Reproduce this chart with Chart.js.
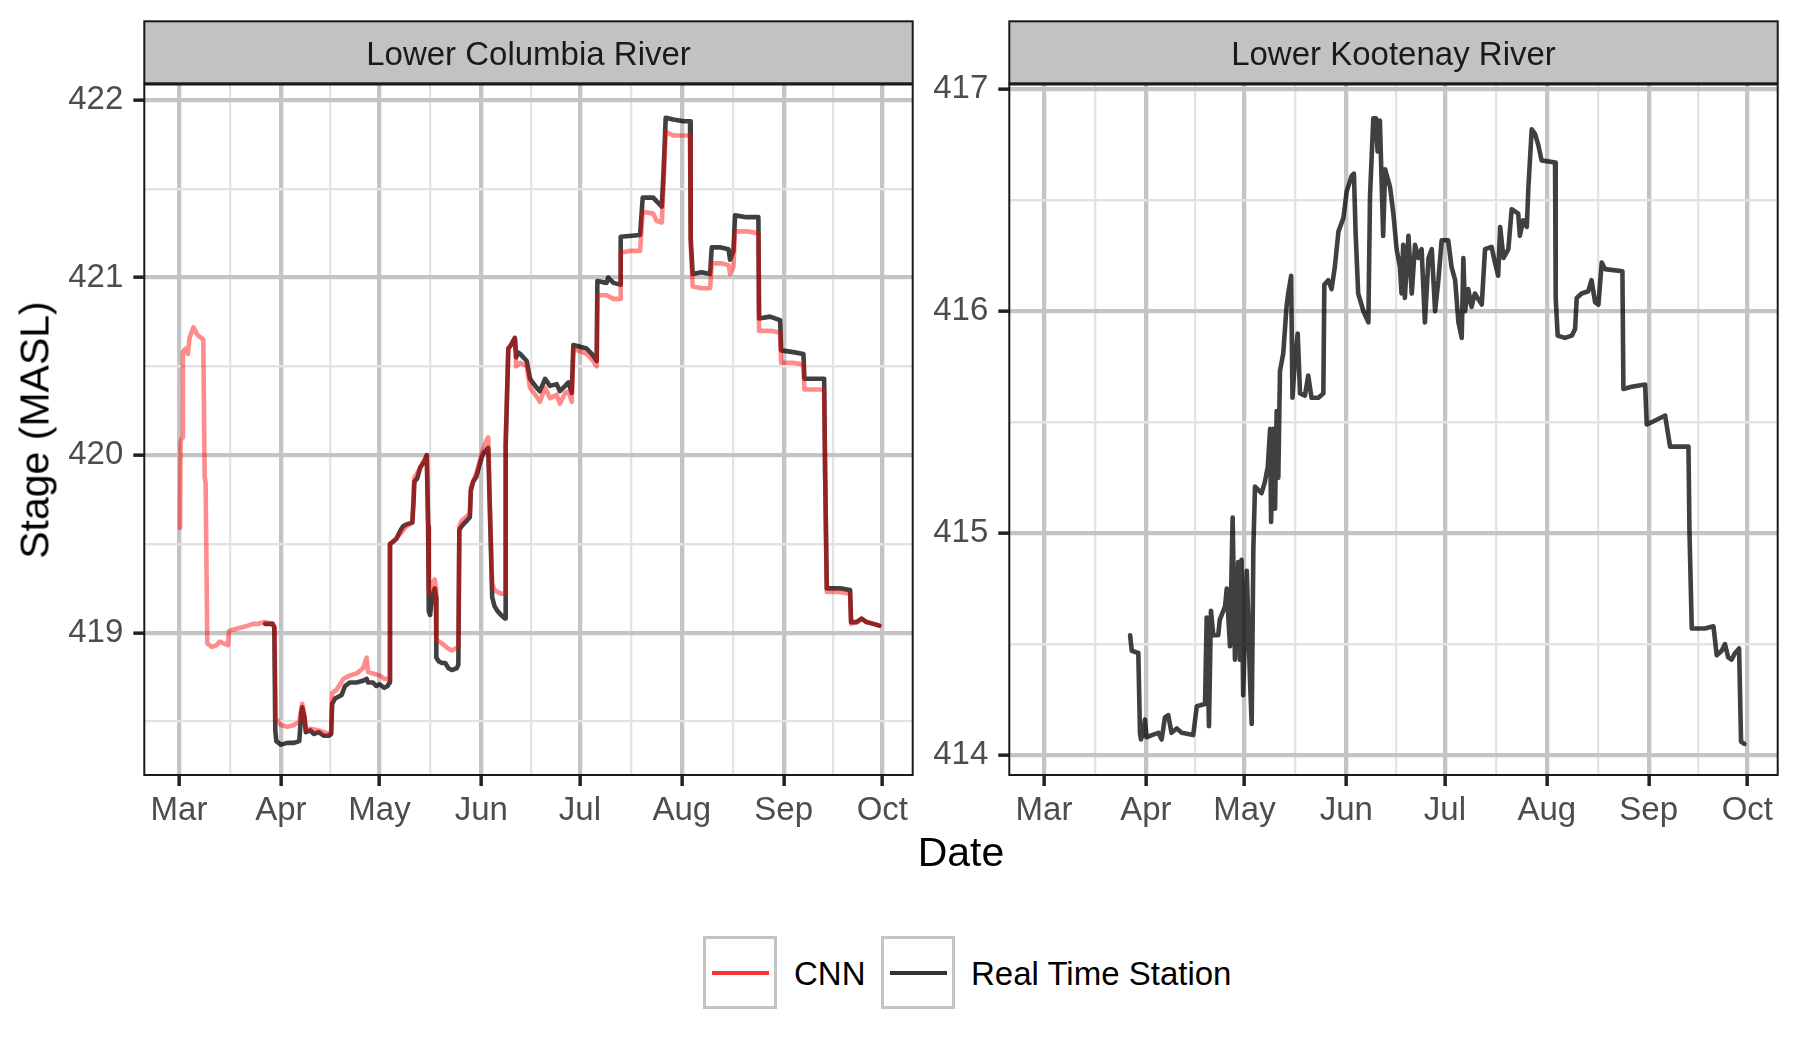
<!DOCTYPE html>
<html>
<head>
<meta charset="utf-8">
<script src="https://cdn.jsdelivr.net/npm/chart.js@4.4.1/dist/chart.umd.min.js"></script>
<style>
  body { margin: 0; width: 1800px; height: 1050px; background: #fff; overflow: hidden; position: relative;
         font-family: "Liberation Sans", Arial, sans-serif; }
  canvas { position: absolute; top: 0; }
  #colChart { left: 0; }
  #kootChart { left: 865px; }
  .txt { position: absolute; white-space: nowrap; line-height: 1; color: #000; }
  .key { position: absolute; box-sizing: border-box; width: 74px; height: 73px; border: 3px solid #c4c4c4; background: #fff; }
  .keyline { position: absolute; left: 6px; top: 32px; width: 57px; height: 4.4px; }
</style>
</head>
<body>
<canvas id="colChart" width="930" height="850"></canvas>
<canvas id="kootChart" width="930" height="850"></canvas>

<div class="txt" style="left:961px;top:852px;font-size:41px;transform:translate(-50%,-50%)">Date</div>
<div class="txt" style="left:35px;top:430px;font-size:41px;transform:translate(-50%,-50%) rotate(-90deg)">Stage (MASL)</div>

<div class="key" style="left:703px;top:936px"><div class="keyline" style="background:#ff3333"></div></div>
<div class="txt" style="left:794px;top:973px;font-size:33px;transform:translateY(-50%)">CNN</div>
<div class="key" style="left:881px;top:936px"><div class="keyline" style="background:#333333"></div></div>
<div class="txt" style="left:971px;top:973px;font-size:33px;transform:translateY(-50%)">Real Time Station</div>

<script>
// days counted from 1 March
const monthTicks = [0, 31, 61, 92, 122, 153, 184, 214];
const monthLabels = ['Mar', 'Apr', 'May', 'Jun', 'Jul', 'Aug', 'Sep', 'Oct'];
const colTicks = [419, 420, 421, 422];
const kootTicks = [414, 415, 416, 417];

// Lower Columbia River - CNN
const cnnDays = [0.3, 0.5, 1.0, 1.2, 2.0, 2.7, 3.2, 4.0, 4.4, 5.5, 7.4, 7.8, 8.1, 8.6, 10.0, 11.5, 12.3, 14.9, 15.2, 17.0,
  19.0, 21.0, 22.5, 24.0, 26.0, 28.5, 29.1, 29.4, 31.0, 33.0, 35.0, 36.6, 37.2, 37.5, 38.2, 38.6, 40.0, 42.5, 45.5, 46.3,
  46.6, 48.0, 50.0, 52.0, 54.0, 56.0, 57.1, 57.5, 59.0, 61.0, 62.5, 64.0, 64.2, 66.0, 67.5, 69.2, 71.0, 71.4, 71.6, 73.4,
  75.4, 75.8, 76.0, 76.4, 77.0, 77.8, 78.2, 78.3, 80.0, 82.0, 83.0, 85.0, 85.3, 86.0, 88.5, 88.8, 90.5, 92.3, 93.5, 94.1,
  94.5, 95.3, 96.0, 98.0, 99.2, 99.4, 100.2, 101.0, 102.2, 102.6, 103.8, 105.8, 106.8, 108.8, 109.8, 111.4, 112.9, 114.9, 115.9, 117.5,
  118.5, 119.5, 120.0, 124.0, 125.6, 127.1, 127.3, 130.1, 132.2, 134.2, 134.4, 137.0, 140.3, 141.1, 144.3, 145.3, 146.9, 147.4, 148.1, 150.4,
  153.5, 155.5, 155.7, 156.3, 159.0, 161.6, 162.1, 165.0, 167.2, 167.7, 168.7, 169.2, 173.0, 176.3, 176.5, 180.0, 182.9, 183.2, 187.0, 190.0,
  190.3, 193.0, 196.3, 196.6, 197.1, 201.0, 204.2, 204.5, 206.2, 207.7, 209.2, 211.3, 213.1];
const cnnStage = [419.59, 420.08, 420.10, 420.58, 420.60, 420.57, 420.66, 420.70, 420.72, 420.68, 420.65, 419.88, 419.84, 418.94, 418.92, 418.93, 418.95, 418.93, 419.01, 419.02,
  419.03, 419.04, 419.05, 419.05, 419.06, 419.05, 419.03, 418.52, 418.48, 418.47, 418.48, 418.50, 418.57, 418.60, 418.53, 418.45, 418.46, 418.45, 418.43, 418.44,
  418.66, 418.68, 418.74, 418.76, 418.77, 418.80, 418.86, 418.78, 418.77, 418.76, 418.74, 418.74, 419.50, 419.53, 419.56, 419.60, 419.62, 419.78, 419.87, 419.93,
  420.00, 419.60, 419.25, 419.22, 419.28, 419.30, 419.25, 418.96, 418.94, 418.91, 418.90, 418.92, 419.60, 419.63, 419.67, 419.82, 419.90, 420.02, 420.08, 420.10,
  419.78, 419.28, 419.24, 419.22, 419.22, 420.08, 420.60, 420.62, 420.66, 420.50, 420.52, 420.50, 420.38, 420.33, 420.30, 420.38, 420.32, 420.34, 420.29, 420.35,
  420.36, 420.30, 420.60, 420.57, 420.54, 420.50, 420.90, 420.90, 420.88, 420.88, 421.14, 421.15, 421.15, 421.37, 421.36, 421.32, 421.31, 421.50, 421.82, 421.80,
  421.80, 421.80, 421.18, 420.95, 420.94, 420.94, 421.08, 421.08, 421.07, 421.02, 421.06, 421.26, 421.26, 421.25, 420.70, 420.70, 420.69, 420.52, 420.52, 420.51,
  420.37, 420.37, 420.37, 419.90, 419.23, 419.23, 419.22, 419.05, 419.06, 419.08, 419.06, 419.05, 419.04];

// Lower Columbia River - Real Time Station
const rtsDays = [26.2, 28.5, 29.0, 29.3, 29.6, 31.0, 33.0, 35.0, 36.6, 37.2, 37.5, 38.2, 38.6, 40.0, 41.0, 42.5, 44.0, 45.5, 46.3, 46.6,
  47.5, 48.5, 49.5, 50.5, 52.0, 54.0, 56.0, 57.1, 57.5, 59.0, 60.0, 61.0, 62.5, 63.5, 64.0, 64.2, 65.0, 66.2, 67.5, 68.2,
  69.2, 71.0, 71.4, 71.6, 72.5, 73.4, 74.8, 75.4, 75.8, 76.0, 76.4, 77.0, 77.8, 78.2, 78.3, 79.0, 80.0, 81.0, 82.0, 83.0,
  84.5, 85.0, 85.3, 86.0, 87.5, 88.5, 88.8, 89.5, 90.5, 91.5, 92.3, 93.0, 94.1, 94.5, 95.3, 96.0, 97.0, 98.0, 99.2, 99.4,
  100.2, 101.0, 102.2, 102.6, 103.0, 103.8, 105.8, 106.8, 108.8, 109.8, 111.4, 112.9, 114.9, 115.9, 117.5, 118.5, 119.5, 120.0, 124.0, 125.6,
  127.1, 127.3, 130.1, 130.6, 132.2, 134.2, 134.4, 140.3, 141.1, 144.3, 145.3, 146.9, 147.4, 148.1, 150.4, 153.5, 155.5, 155.7, 156.3, 159.0,
  161.6, 162.1, 164.6, 167.2, 167.7, 168.7, 169.2, 172.7, 176.3, 176.5, 179.8, 182.9, 183.2, 186.9, 190.0, 190.3, 193.0, 196.3, 196.6, 197.1,
  201.1, 204.2, 204.5, 206.2, 207.7, 209.2, 211.3, 213.1];
const rtsStage = [419.05, 419.05, 419.03, 418.45, 418.39, 418.37, 418.38, 418.38, 418.39, 418.55, 418.58, 418.52, 418.44, 418.45, 418.43, 418.44, 418.42, 418.42, 418.43, 418.60,
  418.63, 418.64, 418.65, 418.70, 418.72, 418.72, 418.73, 418.74, 418.72, 418.72, 418.70, 418.71, 418.69, 418.70, 418.72, 419.50, 419.51, 419.53, 419.58, 419.60,
  419.61, 419.62, 419.75, 419.85, 419.87, 419.93, 419.97, 420.00, 419.60, 419.12, 419.10, 419.20, 419.25, 419.20, 418.86, 418.84, 418.83, 418.83, 418.80, 418.79,
  418.80, 418.82, 419.58, 419.60, 419.63, 419.65, 419.80, 419.85, 419.88, 419.95, 420.00, 420.02, 420.04, 419.75, 419.20, 419.15, 419.12, 419.10, 419.08, 420.05,
  420.60, 420.62, 420.66, 420.55, 420.58, 420.57, 420.53, 420.43, 420.38, 420.36, 420.43, 420.39, 420.40, 420.36, 420.39, 420.41, 420.35, 420.62, 420.60, 420.57,
  420.53, 420.98, 420.97, 421.00, 420.97, 420.96, 421.23, 421.24, 421.45, 421.45, 421.43, 421.40, 421.58, 421.90, 421.89, 421.88, 421.88, 421.22, 421.02, 421.03,
  421.02, 421.17, 421.17, 421.16, 421.10, 421.15, 421.35, 421.34, 421.34, 420.77, 420.78, 420.76, 420.59, 420.58, 420.57, 420.43, 420.43, 420.43, 419.91, 419.25,
  419.25, 419.24, 419.06, 419.06, 419.08, 419.06, 419.05, 419.04];

// Lower Kootenay River - Real Time Station
const kootDays = [26.2, 26.7, 28.7, 29.2, 29.5, 30.2, 30.7, 31.2, 32.8, 34.8, 35.8, 36.8, 37.8, 38.8, 40.4, 41.9, 45.4, 46.5, 49.0, 49.5,
  50.2, 50.8, 51.5, 53.0, 53.5, 55.1, 55.6, 56.6, 57.4, 58.1, 59.1, 59.6, 60.1, 60.6, 61.7, 62.7, 63.2, 63.7, 64.2, 66.2,
  67.2, 68.1, 68.8, 69.1, 69.8, 70.3, 70.8, 71.3, 71.8, 72.8, 73.8, 74.3, 75.2, 75.6, 76.4, 77.2, 77.9, 79.4, 80.4, 81.4,
  83.5, 85.0, 85.3, 86.5, 87.5, 88.5, 89.6, 91.1, 92.1, 93.6, 94.3, 94.8, 95.6, 97.2, 98.7, 99.2, 100.2, 101.0, 101.5, 102.2,
  103.2, 103.8, 105.3, 106.3, 107.3, 108.3, 108.8, 109.3, 109.8, 110.9, 111.9, 112.9, 113.9, 114.9, 115.9, 117.0, 118.0, 119.0, 120.0, 121.0,
  123.0, 124.0, 125.1, 126.1, 127.1, 127.6, 128.1, 129.1, 130.1, 131.1, 133.2, 134.2, 136.2, 137.2, 138.2, 138.8, 139.8, 141.3, 142.3, 144.3,
  144.8, 145.8, 146.9, 147.4, 148.4, 149.4, 150.4, 151.4, 155.5, 155.7, 156.3, 158.5, 160.6, 161.6, 162.1, 163.6, 165.6, 166.6, 167.7, 168.7,
  169.7, 170.7, 176.0, 176.3, 178.8, 182.9, 183.4, 184.9, 189.0, 190.5, 193.0, 196.1, 196.4, 197.1, 201.1, 203.7, 204.7, 206.2, 207.2, 208.2,
  209.2, 210.3, 211.5, 212.1, 213.1];
const kootStage = [414.54, 414.47, 414.46, 414.10, 414.07, 414.10, 414.16, 414.08, 414.09, 414.10, 414.07, 414.17, 414.18, 414.10, 414.12, 414.10, 414.09, 414.22, 414.23, 414.62,
  414.13, 414.65, 414.54, 414.54, 414.61, 414.67, 414.75, 414.49, 415.07, 414.43, 414.87, 414.43, 414.88, 414.27, 414.83, 414.33, 414.14, 414.93, 415.21, 415.18,
  415.23, 415.30, 415.47, 415.05, 415.47, 415.11, 415.55, 415.25, 415.73, 415.81, 416.02, 416.08, 416.16, 415.61, 415.79, 415.90, 415.63, 415.62, 415.71, 415.61,
  415.61, 415.63, 416.12, 416.14, 416.10, 416.20, 416.36, 416.42, 416.54, 416.61, 416.62, 416.36, 416.08, 416.00, 415.95, 416.52, 416.87, 416.87, 416.72, 416.86,
  416.34, 416.64, 416.56, 416.44, 416.28, 416.20, 416.08, 416.30, 416.06, 416.34, 416.08, 416.30, 416.24, 416.28, 415.95, 416.24, 416.28, 416.00, 416.14, 416.32,
  416.32, 416.20, 416.14, 415.95, 415.88, 416.24, 416.00, 416.10, 416.02, 416.08, 416.03, 416.28, 416.29, 416.22, 416.16, 416.38, 416.24, 416.28, 416.46, 416.44,
  416.34, 416.41, 416.38, 416.56, 416.82, 416.80, 416.75, 416.68, 416.67, 416.06, 415.89, 415.88, 415.89, 415.92, 416.06, 416.08, 416.09, 416.14, 416.04, 416.03,
  416.22, 416.19, 416.18, 415.65, 415.66, 415.67, 415.49, 415.50, 415.53, 415.39, 415.39, 415.39, 415.01, 414.57, 414.57, 414.58, 414.45, 414.47, 414.50, 414.44,
  414.43, 414.46, 414.48, 414.06, 414.05];

Chart.defaults.font.family = '"Liberation Sans", Arial, sans-serif';

const monthMids = monthTicks.slice(1).map((d, i) => (d + monthTicks[i]) / 2);

function points(days, vals) {
  return days.map((d, i) => ({ x: d, y: vals[i] }));
}

function lineSet(label, days, vals, color) {
  return {
    label: label,
    data: points(days, vals),
    borderColor: color,
    borderWidth: 4.6,
    pointRadius: 0,
    tension: 0,
    borderJoinStyle: 'round',
    borderCapStyle: 'round'
  };
}

const panelFrame = {
  id: 'panelFrame',
  afterDraw(chart, args, opts) {
    const ctx = chart.ctx;
    const a = chart.chartArea;
    ctx.save();
    ctx.fillStyle = '#c2c2c2';
    ctx.fillRect(a.left, 21.3, a.right - a.left, 62);
    ctx.strokeStyle = '#1a1a1a';
    ctx.lineWidth = 2;
    ctx.strokeRect(a.left, 21.3, a.right - a.left, 62);
    ctx.fillStyle = '#1a1a1a';
    ctx.font = '33px "Liberation Sans", Arial, sans-serif';
    ctx.textAlign = 'center';
    ctx.textBaseline = 'middle';
    ctx.fillText(opts.title, (a.left + a.right) / 2, 55.5);
    ctx.strokeRect(a.left, a.top, a.right - a.left, a.bottom - a.top);
    ctx.restore();
  }
};

function makePanel(id, title, datasets, yMin, yMax, yMajor) {
  const yMinor = yMajor.map(v => v - 0.5).concat(yMajor.map(v => v + 0.5))
    .filter(v => v > yMin && v < yMax && !yMajor.includes(v));
  const isMajorX = v => monthTicks.includes(v);
  const isMajorY = v => yMajor.includes(v);

  return new Chart(document.getElementById(id), {
    type: 'line',
    data: { datasets: datasets },
    plugins: [panelFrame],
    options: {
      responsive: false,
      animation: false,
      devicePixelRatio: 1,
      layout: { padding: { top: 84.5, right: 17.3, bottom: 15, left: 0 } },
      plugins: {
        legend: { display: false },
        tooltip: { enabled: false },
        panelFrame: { title: title }
      },
      scales: {
        x: {
          type: 'linear',
          min: -10.56,
          max: 223.25,
          afterBuildTicks: s => { s.ticks = monthTicks.concat(monthMids).sort((a, b) => a - b).map(v => ({ value: v })); },
          afterFit: s => { s.height = 60; },
          border: { display: false },
          grid: {
            color: c => (c.tick && isMajorX(c.tick.value)) ? '#c4c4c4' : '#e3e3e3',
            lineWidth: c => (c.tick && isMajorX(c.tick.value)) ? 4.3 : 2.3,
            tickLength: 11,
            tickColor: c => (c.tick && isMajorX(c.tick.value)) ? '#222' : 'rgba(0,0,0,0)',
            tickWidth: 3.5
          },
          ticks: {
            autoSkip: false,
            maxRotation: 0,
            padding: 5,
            color: '#4d4d4d',
            font: { size: 33 },
            callback: v => { const i = monthTicks.indexOf(v); return i >= 0 ? monthLabels[i] : ''; }
          }
        },
        y: {
          type: 'linear',
          min: yMin,
          max: yMax,
          afterBuildTicks: s => { s.ticks = yMajor.concat(yMinor).sort((a, b) => a - b).map(v => ({ value: v })); },
          afterFit: s => { s.width = 144.3; },
          border: { display: false },
          grid: {
            color: c => (c.tick && isMajorY(c.tick.value)) ? '#c4c4c4' : '#e3e3e3',
            lineWidth: c => (c.tick && isMajorY(c.tick.value)) ? 4.3 : 2.3,
            tickLength: 11,
            tickColor: c => (c.tick && isMajorY(c.tick.value)) ? '#222' : 'rgba(0,0,0,0)',
            tickWidth: 3.5
          },
          ticks: {
            autoSkip: false,
            padding: 10,
            color: '#4d4d4d',
            font: { size: 33 },
            callback: v => isMajorY(v) ? String(v) : ''
          }
        }
      }
    }
  });
}

makePanel('colChart', 'Lower Columbia River', [
  lineSet('CNN', cnnDays, cnnStage, 'rgba(255,0,0,0.45)'),
  lineSet('Real Time Station', rtsDays, rtsStage, 'rgba(0,0,0,0.75)')
], 418.199, 422.087, colTicks);

makePanel('kootChart', 'Lower Kootenay River', [
  lineSet('Real Time Station', kootDays, kootStage, 'rgba(0,0,0,0.75)')
], 413.91, 417.022, kootTicks);
</script>
</body>
</html>
